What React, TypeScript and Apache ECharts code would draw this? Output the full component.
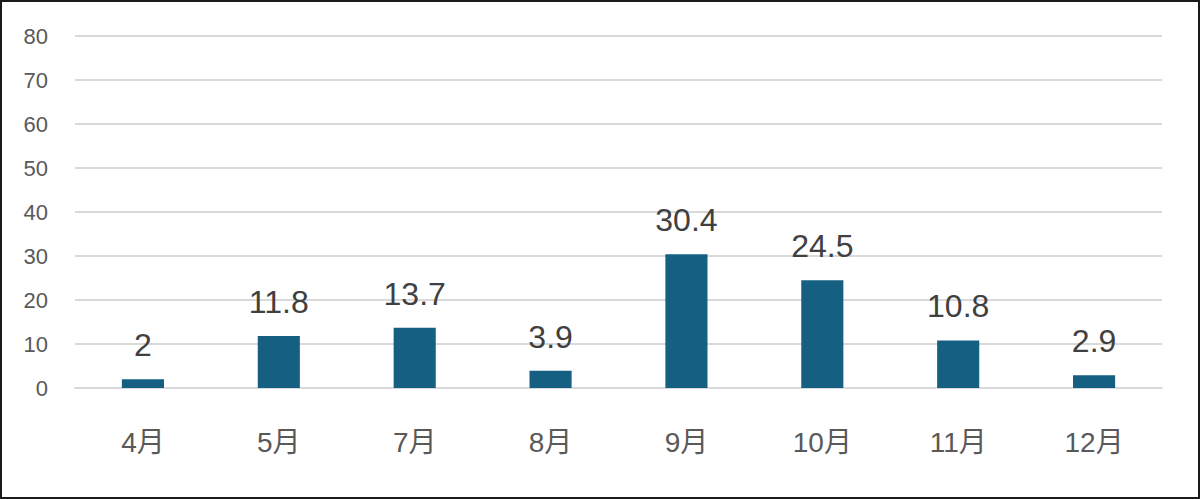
import React, { useEffect, useRef } from 'react';
import * as echarts from 'echarts';

const months: string[] = ['4月', '5月', '7月', '8月', '9月', '10月', '11月', '12月'];
const values: number[] = [2, 11.8, 13.7, 3.9, 30.4, 24.5, 10.8, 2.9];
const yTicks: number[] = [0, 10, 20, 30, 40, 50, 60, 70, 80];

const FONT = '"Liberation Sans", "Noto Sans CJK JP", sans-serif';

const App = () => {
    const chartRef = useRef<HTMLDivElement>(null);

    useEffect(() => {
        if (!chartRef.current) return;
        const myChart = echarts.init(chartRef.current, undefined, { renderer: 'svg' });

        myChart.setOption({
            animation: false,
            textStyle: { fontFamily: FONT },
            grid: { left: 75, right: 38, top: 36, bottom: 111 },
            xAxis: {
                type: 'category',
                data: months,
                axisLine: { show: true, lineStyle: { color: '#d9d9d9', width: 2 } },
                axisTick: { show: false },
                axisLabel: { color: '#595959', fontSize: 28, margin: 40, fontFamily: FONT }
            },
            yAxis: {
                type: 'value',
                min: yTicks[0],
                max: yTicks[yTicks.length - 1],
                interval: 10,
                axisLine: { show: false },
                axisTick: { show: false },
                splitLine: { lineStyle: { color: '#d9d9d9', width: 2 } },
                axisLabel: { color: '#595959', fontSize: 22, margin: 27, fontFamily: FONT }
            },
            series: [
                {
                    type: 'bar',
                    data: values,
                    barWidth: '31%',
                    itemStyle: { color: '#156082' },
                    label: {
                        show: true,
                        position: 'top',
                        distance: 18,
                        color: '#404040',
                        fontSize: 32,
                        fontFamily: FONT
                    }
                }
            ]
        });

        return () => {
            myChart.dispose();
        };
    }, []);

    return (
        <div
            style={{
                position: 'absolute',
                left: 0,
                top: 0,
                width: 1200,
                height: 499,
                boxSizing: 'border-box',
                border: '2px solid #1a1a1a',
                background: '#fff'
            }}
        >
            <div
                ref={chartRef}
                style={{ position: 'absolute', left: -2, top: -2, width: 1200, height: 499 }}
            />
        </div>
    );
};

export default App;
